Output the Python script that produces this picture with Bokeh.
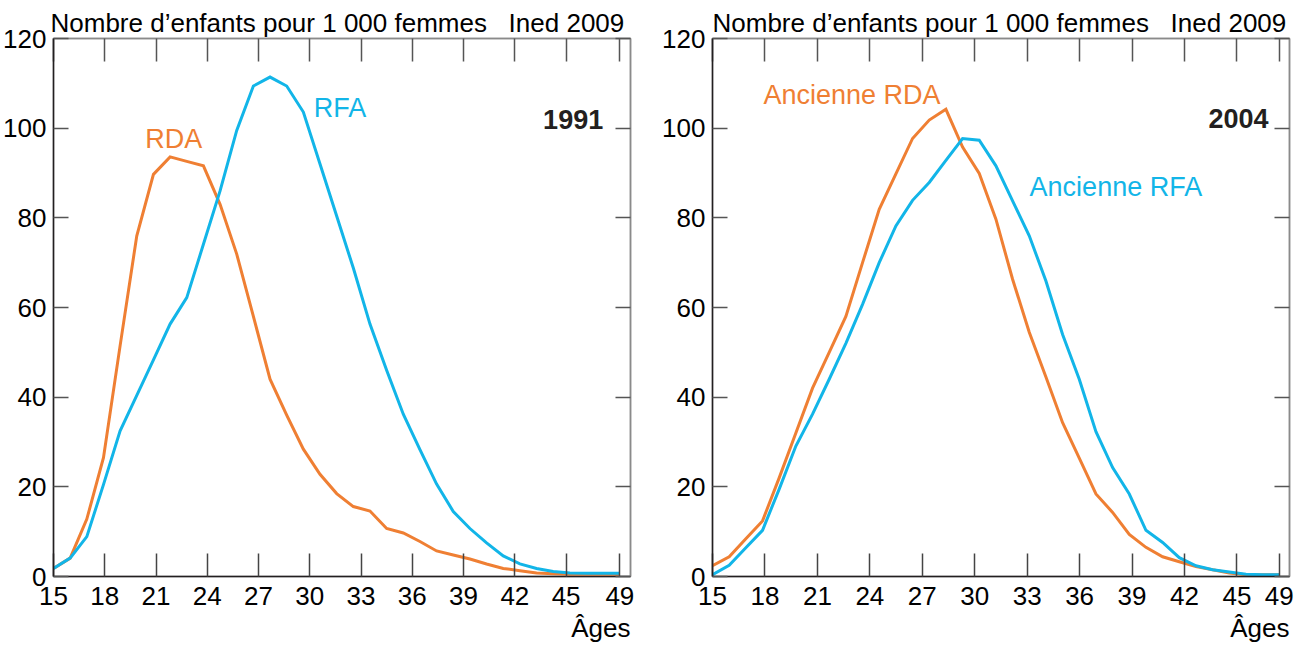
from bokeh.plotting import figure
from bokeh.models import Label, LinearAxis, FixedTicker, Range1d, CustomJSTickFormatter, Title
from bokeh.layouts import row
from bokeh.embed import file_html
from bokeh.resources import INLINE

# ---------------- data ----------------
ages = list(range(15, 50))

rda_1991 = [1.8, 4.1, 12.8, 26.5, 51.5, 76.0, 89.7, 93.6, 92.6, 91.6, 83.0, 71.9,
            58.0, 44.0, 36.0, 28.4, 22.8, 18.5, 15.6, 14.6, 10.7, 9.7, 7.8, 5.7,
            4.8, 3.9, 2.8, 1.8, 1.3, 0.8, 0.6, 0.5, 0.5, 0.5, 0.5]
rfa_1991 = [1.8, 4.1, 8.9, 20.5, 32.5, 40.4, 48.3, 56.3, 62.2, 74.1, 86.0, 99.5,
            109.4, 111.4, 109.4, 103.6, 92.0, 80.4, 68.8, 56.3, 46.0, 36.2, 28.3, 20.6,
            14.5, 10.7, 7.5, 4.6, 2.8, 1.8, 1.1, 0.8, 0.7, 0.7, 0.7]

rda_2004 = [2.4, 4.4, 8.4, 12.4, 22.0, 32.0, 42.0, 50.0, 58.0, 70.0, 81.9, 89.8,
            97.7, 101.8, 104.2, 95.8, 89.9, 79.7, 66.3, 54.5, 44.5, 34.3, 26.4, 18.4,
            14.3, 9.4, 6.5, 4.4, 3.3, 2.2, 1.5, 0.8, 0.4, 0.4, 0.4]
rfa_2004 = [0.4, 2.5, 6.4, 10.3, 19.5, 29.1, 36.2, 44.0, 52.0, 60.7, 70.0, 78.2,
            83.9, 87.9, 92.8, 97.7, 97.3, 91.6, 83.8, 76.0, 65.9, 54.0, 44.0, 32.3,
            24.3, 18.4, 10.3, 7.6, 4.2, 2.4, 1.5, 1.0, 0.5, 0.4, 0.4]

x_tick_labels = [15, 18, 21, 24, 27, 30, 33, 36, 39, 42, 45, 49]
y_ticks = [0, 20, 40, 60, 80, 100, 120]

title_text = "Nombre d\u2019enfants pour 1\u00a0000 femmes"
source_text = "Ined 2009"
axis_title = "\u00c2ges"

ORANGE = "#EF7F33"
BLUE = "#12B5E8"
DARK = "#231f20"
GRAY = "#8a8a8a"
FONT = "Liberation Sans"


def make_panel(border_right, x_end, stretch, year, s_orange, s_blue,
               lab_orange, lab_blue, year_pos, title_offset):
    p = figure(frame_width=577, frame_height=538, output_backend="svg", toolbar_location=None,
               x_range=Range1d(15, x_end), y_range=Range1d(0, 120),
               min_border_left=53, min_border_right=border_right,
               min_border_top=38, min_border_bottom=66,
               x_axis_location=None, y_axis_location=None)
    p.grid.visible = False
    p.outline_line_color = GRAY
    p.outline_line_width = 1.5
    p.background_fill_color = "white"
    p.border_fill_color = "white"

    tick_pos = [49.0 if v == 49 else 15 + (v - 15) * stretch for v in x_tick_labels]
    fmt = CustomJSTickFormatter(args=dict(pos=tick_pos, labs=[str(v) for v in x_tick_labels]),
                                code="""
        for (let i = 0; i < pos.length; i++) { if (Math.abs(pos[i] - tick) < 1e-6) return labs[i]; }
        return '';
    """)
    xt = FixedTicker(ticks=tick_pos)
    yt = FixedTicker(ticks=y_ticks)

    bottom = LinearAxis(ticker=xt, formatter=fmt)
    bottom.axis_line_color = DARK
    bottom.axis_line_width = 1.5
    bottom.major_tick_in = 23
    bottom.major_tick_out = 0
    bottom.major_tick_line_color = "#444444"
    bottom.major_tick_line_width = 1.5
    bottom.minor_tick_line_color = None
    bottom.major_label_text_font = FONT
    bottom.major_label_text_font_size = "26px"
    bottom.major_label_text_color = "black"
    bottom.major_label_standoff = 10
    p.add_layout(bottom, "below")

    top = LinearAxis(ticker=xt)
    top.axis_line_color = GRAY
    top.axis_line_width = 1.5
    top.major_tick_in = 23
    top.major_tick_out = 0
    top.major_tick_line_color = "#555555"
    top.major_tick_line_width = 1.5
    top.minor_tick_line_color = None
    top.major_label_text_font_size = "1px"
    top.major_label_text_color = None
    top.major_label_standoff = 0
    p.add_layout(top, "above")

    left = LinearAxis(ticker=yt)
    left.axis_line_color = DARK
    left.axis_line_width = 1.5
    left.major_tick_in = 15
    left.major_tick_out = 0
    left.major_tick_line_color = "#555555"
    left.major_tick_line_width = 1.5
    left.minor_tick_line_color = None
    left.major_label_text_font = FONT
    left.major_label_text_font_size = "26px"
    left.major_label_text_color = "black"
    left.major_label_standoff = 7
    p.add_layout(left, "left")

    right = LinearAxis(ticker=yt)
    right.axis_line_color = GRAY
    right.axis_line_width = 1.5
    right.major_tick_in = 15
    right.major_tick_out = 0
    right.major_tick_line_color = "#555555"
    right.major_tick_line_width = 1.5
    right.minor_tick_line_color = None
    right.major_label_text_font_size = "1px"
    right.major_label_text_color = None
    right.major_label_standoff = 0
    p.add_layout(right, "right")

    p.line(ages, s_orange, line_color=ORANGE, line_width=3, line_join="miter")
    p.line(ages, s_blue, line_color=BLUE, line_width=3, line_join="miter")

    p.title = Title(text=title_text + "\u00a0\u00a0\u00a0" + source_text, align="left",
                    offset=title_offset, standoff=1,
                    text_font=FONT, text_font_size="26px", text_font_style="normal",
                    text_color="black")
    p.add_layout(Title(text=axis_title, align="right", text_font=FONT,
                       text_font_size="26px", text_font_style="normal",
                       text_color="black", standoff=6), "below")

    common = dict(text_font=FONT, text_font_size="27px", text_baseline="alphabetic",
                  y_offset=9)
    p.add_layout(Label(x=lab_orange[0], y=lab_orange[1], text=lab_orange[2],
                       text_align="left", text_color=ORANGE, **common))
    p.add_layout(Label(x=lab_blue[0], y=lab_blue[1], text=lab_blue[2],
                       text_align="left", text_color=BLUE, **common))
    p.add_layout(Label(x=year_pos[0], y=year_pos[1], text=year, text_align="right",
                       text_color=DARK, text_font_style="bold", **common))
    return p


p1 = make_panel(29, 49.64, 1.0258, "1991", rda_1991, rfa_1991,
                (20.51, 95.5, "RDA"), (30.62, 102.5, "RFA"), (48.0, 100.0), -3)
p2 = make_panel(10, 49.61, 1.0486, "2004", rda_2004, rfa_2004,
                (18.06, 105.3, "Ancienne RDA"), (34.02, 84.9, "Ancienne RFA"), (48.35, 100.1), 0)

layout = row(p1, p2)
open("out.html", "w").write(file_html(layout, INLINE))
